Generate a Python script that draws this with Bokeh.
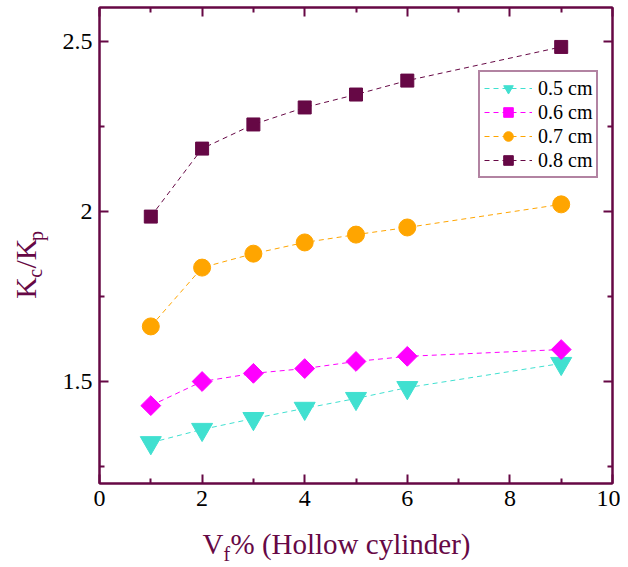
import math
from bokeh.plotting import figure
from bokeh.layouts import row, column
from bokeh.models import (LinearAxis, FixedTicker, Range1d, Label, Legend, LegendItem)
from bokeh.embed import file_html
from bokeh.resources import INLINE

# ---- data ----
vf = [1, 2, 3, 4, 5, 6, 9]
k_05 = [1.320, 1.359, 1.391, 1.421, 1.450, 1.482, 1.553]
k_06 = [1.429, 1.500, 1.524, 1.538, 1.559, 1.574, 1.594]
k_07 = [1.662, 1.835, 1.876, 1.909, 1.932, 1.953, 2.021]
k_08 = [1.985, 2.185, 2.256, 2.306, 2.344, 2.385, 2.484]
series_labels = ["0.5 cm", "0.6 cm", "0.7 cm", "0.8 cm"]
x_ticks = [0, 2, 4, 6, 8, 10]
x_minor = [1, 3, 5, 7, 9]
y_ticks = [1.5, 2.0, 2.5]
y_minor = [1.25, 1.75, 2.25]

PURPLE = "#660845"
FONT = "Liberation Serif"
W, H = 620, 566
YLAB_W = 55          # width of the strip holding the y-axis title
TOP_H = 518          # height of the plot row
XLAB_H = H - TOP_H   # height of the strip holding the x-axis title

p = figure(width=W - YLAB_W, height=TOP_H, output_backend="svg", toolbar_location=None,
           x_range=Range1d(0, 10), y_range=Range1d(1.2, 2.6),
           x_axis_location=None, y_axis_location=None)
p.min_border_left = 99 - YLAB_W
p.min_border_right = 8
p.min_border_top = 7
p.min_border_bottom = TOP_H - 7 - 476
p.grid.visible = False
p.outline_line_color = PURPLE
p.outline_line_width = 2
p.background_fill_color = "white"
p.border_fill_color = "white"


def make_axis(ticks, minor, show_labels):
    ax = LinearAxis(ticker=FixedTicker(ticks=ticks, minor_ticks=minor))
    ax.axis_line_color = PURPLE
    ax.axis_line_width = 2
    ax.major_tick_line_color = PURPLE
    ax.minor_tick_line_color = PURPLE
    ax.major_tick_line_width = 2
    ax.minor_tick_line_width = 2
    ax.major_tick_in = 9
    ax.major_tick_out = 0
    ax.minor_tick_in = 5
    ax.minor_tick_out = 0
    ax.major_label_text_font = FONT
    ax.major_label_text_color = "black"
    if show_labels:
        ax.major_label_text_font_size = "24px"
        ax.major_label_standoff = 7
        ax.major_label_overrides = {t: ("%g" % t) for t in ticks}
    else:
        ax.major_label_text_font_size = "1px"
        ax.major_label_standoff = 0
        ax.major_label_overrides = {t: "" for t in ticks}
    return ax


p.add_layout(make_axis(x_ticks, x_minor, True), "below")
p.add_layout(make_axis(y_ticks, y_minor, True), "left")
p.add_layout(make_axis(x_ticks, x_minor, False), "above")
p.add_layout(make_axis(y_ticks, y_minor, False), "right")

colors = ["#40E0D0", "#FF00FF", "#FFA500", PURPLE]
markers = ["inverted_triangle", "square", "circle", "square"]
sizes = [21, 14, 17, 13]
angles = [0, math.pi / 4, 0, 0]
items = []
for ys, lab, c, m, s, a in zip([k_05, k_06, k_07, k_08], series_labels, colors, markers, sizes, angles):
    ln = p.line(vf, ys, line_color=c, line_width=1, line_dash="5 4")
    sc = p.scatter(vf, ys, marker=m, size=s, angle=a, fill_color=c, line_color=c)
    items.append(LegendItem(label=lab, renderers=[ln, sc]))

legend = Legend(items=items, location=(379, 305))
legend.border_line_color = PURPLE
legend.border_line_width = 2
legend.label_text_font = FONT
legend.label_text_font_size = "20px"
legend.label_text_color = "black"
legend.padding = 4
legend.spacing = 0
legend.label_height = 24
legend.glyph_height = 24
legend.glyph_width = 48
legend.label_standoff = 6
legend.margin = 0
legend.background_fill_alpha = 1
p.add_layout(legend)


def text_strip(width, height):
    f = figure(width=width, height=height, output_backend="svg", toolbar_location=None,
               x_range=Range1d(0, width), y_range=Range1d(0, height),
               x_axis_location=None, y_axis_location=None, min_border=0)
    f.grid.visible = False
    f.outline_line_color = None
    f.border_fill_color = "white"
    f.background_fill_color = "white"
    return f


def add_text(f, t, px, py, fs, angle=0.0):
    # px, py: pixel position (from the strip's top-left) of the text anchor
    f.add_layout(Label(x=px, y=f.height - py, text=t, angle=angle,
                       text_font=FONT, text_font_size=fs, text_color=PURPLE,
                       text_align="left", text_baseline="alphabetic"))


# y-axis title K_c/K_p (rotated)
ystrip = text_strip(YLAB_W, TOP_H)
add_text(ystrip, "K", 25, 317, "30px", math.pi / 2)
add_text(ystrip, "c", 34, 294, "20px", math.pi / 2)
add_text(ystrip, "/K", 25, 284, "30px", math.pi / 2)
add_text(ystrip, "p", 35, 254, "20px", math.pi / 2)

# x-axis title V_f% (Hollow cylinder)
xstrip = text_strip(W, XLAB_H)
add_text(xstrip, "V", 202, 543 - TOP_H, "29px")
add_text(xstrip, "f", 223, 553 - TOP_H, "20px")
add_text(xstrip, "% (Hollow cylinder)", 230, 543 - TOP_H, "29px")

layout = column(row(ystrip, p, spacing=0), xstrip, spacing=0)
open("out.html", "w").write(file_html(layout, INLINE))
